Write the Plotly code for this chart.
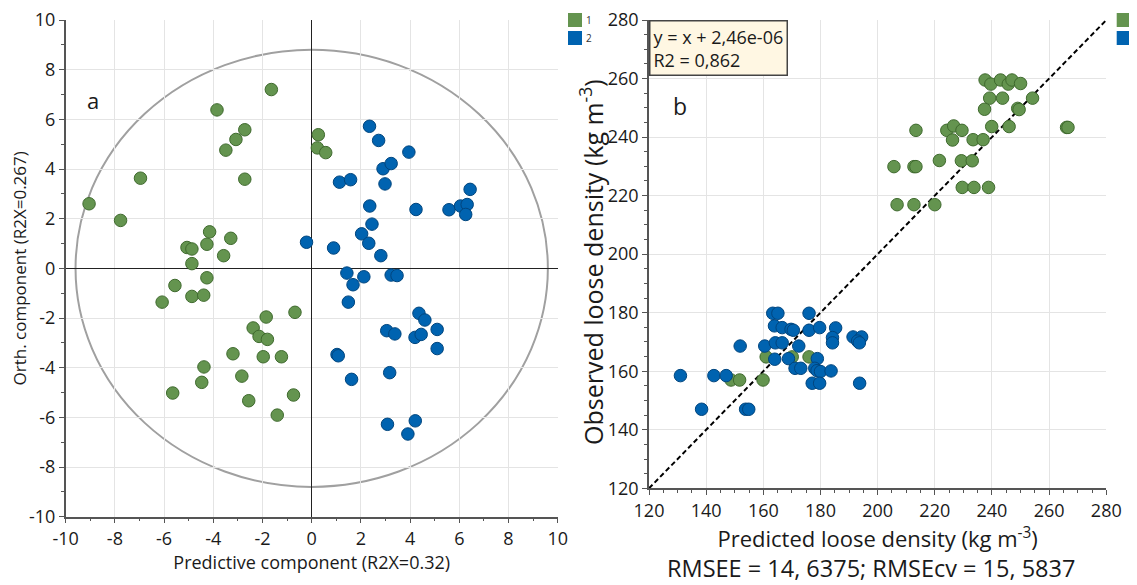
import plotly.graph_objects as go

# ---------------- data ----------------
# (a) OPLS-DA score plot
a_green_x = [-9.05, -7.77, -6.96, -3.85, -1.64, -3.49, -3.08, -2.72, -2.72, 0.27, 0.23, 0.57,
             -4.15, -3.29, -5.07, -4.87, -4.26, -3.58, -4.87, -4.26, -5.56, -4.87, -4.39, -6.08,
             -0.68, -1.85, -2.38, -2.14, -1.80, -3.20, -1.97, -1.23, -4.38, -2.84, -4.47, -5.65,
             -2.56, -0.74, -1.40]
a_green_y = [2.60, 1.93, 3.63, 6.38, 7.20, 4.76, 5.19, 5.58, 3.59, 5.38, 4.85, 4.66,
             1.47, 1.21, 0.84, 0.78, 0.97, 0.51, 0.19, -0.38, -0.69, -1.13, -1.08, -1.36,
             -1.77, -1.96, -2.40, -2.74, -2.86, -3.44, -3.56, -3.56, -3.97, -4.34, -4.59, -5.02,
             -5.33, -5.10, -5.91]
a_blue_x = [2.35, 2.72, 3.95, 2.90, 3.23, 2.98, 1.13, 1.58, 6.44, 2.36, 4.24, 5.58, 6.05, 6.32,
            6.26, 2.45, 2.03, 2.32, -0.21, 0.89, 2.81, 1.43, 2.12, 1.68, 3.23, 3.47, 1.49,
            4.36, 4.60, 3.05, 3.38, 4.20, 4.45, 5.10, 5.10, 1.03, 1.08, 3.17, 1.62, 3.08,
            4.21, 3.91]
a_blue_y = [5.72, 5.15, 4.68, 4.01, 4.22, 3.40, 3.47, 3.57, 3.18, 2.51, 2.37, 2.36, 2.51, 2.57,
            2.17, 1.78, 1.39, 1.01, 1.05, 0.82, 0.51, -0.19, -0.34, -0.66, -0.27, -0.29, -1.36,
            -1.81, -2.08, -2.51, -2.64, -2.78, -2.66, -2.46, -3.23, -3.47, -3.52, -4.20, -4.47,
            -6.28, -6.14, -6.67]

# (b) observed vs predicted loose density
b_green_pred = [237.6, 239.6, 243.0, 245.7, 247.0, 250.0, 239.2, 243.7, 254.2, 237.4, 249.0, 249.5,
                239.9, 246.0, 266.1, 266.6, 213.4, 224.2, 226.6, 229.5, 226.2, 233.4, 236.9,
                205.7, 212.7, 213.4, 221.6, 229.3, 233.1, 229.6, 233.7, 238.8, 206.8, 212.7, 220.0,
                161.0, 170.1, 176.0, 148.7, 151.7, 159.9]
b_green_obs = [259.5, 258.1, 259.5, 258.1, 259.5, 258.3, 253.3, 253.3, 253.3, 249.5, 249.8, 249.4,
               243.6, 243.6, 243.3, 243.3, 242.3, 242.3, 243.8, 242.3, 239.0, 239.1, 239.1,
               229.9, 229.9, 229.9, 232.0, 231.9, 231.9, 222.8, 222.8, 222.8, 216.9, 216.9, 216.9,
               164.9, 164.9, 164.9, 157.0, 157.0, 157.0]
b_blue_pred = [131.0, 138.4, 142.7, 147.0, 153.8, 154.9, 151.9, 160.5, 163.3, 165.1, 176.0, 163.9,
               166.6, 169.7, 170.5, 176.0, 179.7, 185.3, 164.2, 166.6, 172.4, 164.0, 168.8, 178.9,
               171.1, 173.1, 178.0, 178.8, 180.0, 183.7, 177.1, 179.7, 193.7, 184.2, 184.2, 191.4,
               194.4, 193.0, 193.6]
b_blue_obs = [158.5, 147.0, 158.5, 158.5, 147.0, 147.0, 168.6, 168.6, 179.8, 179.8, 179.8, 175.5,
              174.9, 174.3, 174.0, 174.0, 174.9, 174.8, 169.7, 169.7, 168.6, 164.1, 164.3, 164.3,
              161.0, 161.0, 161.0, 160.2, 159.9, 160.1, 155.9, 155.9, 155.9, 171.5, 169.7, 171.7,
              171.7, 170.3, 169.7]

a_ticks = [-10, -8, -6, -4, -2, 0, 2, 4, 6, 8, 10]
a_ticktext = [str(v) for v in a_ticks]
b_ticks = [120, 140, 160, 180, 200, 220, 240, 260, 280]
b_ticktext = [str(v) for v in b_ticks]
legend_labels = ["1", "2"]

# ellipse (Hotelling T2) semi-axes
ell_a, ell_b = 9.6, 8.8

# ---------------- style ----------------
OFF = 8                       # default page (body) margin of the html page
W, H = 1137 - OFF, 585 - OFF  # figure fills the rest of the 1137x585 window
FONT = "Open Sans"
GREEN = "#64944F"
GREEN_EDGE = "#3F6A2E"
BLUE = "#0063B0"
BLUE_EDGE = "#00457E"
GRID = "#E4E4E4"
AXIS = "#555555"
TXT = "#1a1a1a"


def px_x(p):
    """window pixel -> paper x"""
    return (p - OFF) / W


def px_y(p):
    """window pixel (from top) -> paper y"""
    return 1 - (p - OFF) / H


fig = go.Figure()

fig.add_trace(go.Scatter(x=a_green_x, y=a_green_y, mode="markers", xaxis="x", yaxis="y",
                         marker=dict(color=GREEN, size=12.5, line=dict(width=1, color=GREEN_EDGE)),
                         showlegend=False, name="1"))
fig.add_trace(go.Scatter(x=a_blue_x, y=a_blue_y, mode="markers", xaxis="x", yaxis="y",
                         marker=dict(color=BLUE, size=12.5, line=dict(width=1, color=BLUE_EDGE)),
                         showlegend=False, name="2"))

# identity line y = x across the axis range
fig.add_trace(go.Scatter(x=[b_ticks[0], b_ticks[-1]], y=[b_ticks[0], b_ticks[-1]], mode="lines",
                         xaxis="x2", yaxis="y2", line=dict(color="black", width=2, dash="5px,3px"),
                         showlegend=False, hoverinfo="skip"))
fig.add_trace(go.Scatter(x=b_green_pred, y=b_green_obs, mode="markers", xaxis="x2", yaxis="y2",
                         marker=dict(color=GREEN, size=12.5, line=dict(width=1, color=GREEN_EDGE)),
                         showlegend=False, name="1"))
fig.add_trace(go.Scatter(x=b_blue_pred, y=b_blue_obs, mode="markers", xaxis="x2", yaxis="y2",
                         marker=dict(color=BLUE, size=12.5, line=dict(width=1, color=BLUE_EDGE)),
                         showlegend=False, name="2"))

axis_common = dict(showgrid=True, gridcolor=GRID, gridwidth=1, showline=True, linecolor=AXIS,
                   linewidth=1.5, ticks="outside", ticklen=5, tickcolor=AXIS, tickwidth=1,
                   tickfont=dict(family=FONT, size=18, color=TXT), mirror=False,
                   automargin=False, ticklabeloverflow="allow")

fig.update_layout(
    width=W, height=H, margin=dict(l=0, r=0, t=0, b=0, autoexpand=False),
    paper_bgcolor="white", plot_bgcolor="white",
    font=dict(family=FONT, color=TXT),
    xaxis=dict(domain=[px_x(65.7), px_x(557.7)], range=[-10, 10], tickvals=a_ticks,
               ticktext=a_ticktext, zeroline=True, zerolinecolor="#222222", zerolinewidth=1,
               minor=dict(dtick=1, ticks="outside", ticklen=3, tickcolor=AXIS, showgrid=False),
               title=dict(text="Predictive component (R2X=0.32)", standoff=4,
                          font=dict(family=FONT, size=18, color=TXT)),
               anchor="y", **axis_common),
    yaxis=dict(domain=[px_y(516.7), px_y(20)], range=[-10, 10], tickvals=a_ticks,
               ticktext=a_ticktext, zeroline=True, zerolinecolor="#222222", zerolinewidth=1,
               minor=dict(dtick=1, ticks="outside", ticklen=3, tickcolor=AXIS, showgrid=False),
               title=dict(text="Orth. component (R2X=0.267)", standoff=0,
                          font=dict(family=FONT, size=17, color=TXT)),
               anchor="x", **axis_common),
    xaxis2=dict(domain=[px_x(649), px_x(1106.3)], range=[120, 280], tickvals=b_ticks,
                ticktext=b_ticktext, zeroline=False,
                minor=dict(dtick=5, ticks="outside", ticklen=3, tickcolor=AXIS, showgrid=False),
                title=dict(text="Predicted loose density (kg m<sup>-3</sup>)", standoff=0,
                           font=dict(family=FONT, size=22, color=TXT)),
                anchor="y2", **axis_common),
    yaxis2=dict(domain=[px_y(488.3), px_y(20)], range=[120, 280], tickvals=b_ticks,
                ticktext=b_ticktext, zeroline=False,
                minor=dict(dtick=5, ticks="outside", ticklen=3, tickcolor=AXIS, showgrid=False),
                anchor="x2", **axis_common),
)

shapes = [dict(type="circle", xref="x", yref="y", x0=-ell_a, x1=ell_a, y0=-ell_b, y1=ell_b,
               line=dict(color="#A0A0A0", width=2), layer="below")]

# legends (square swatches + labels) for both panels
annotations = []
for lx in (568, 1116.7):
    for i, (lab, col) in enumerate(zip(legend_labels, [GREEN, BLUE])):
        top = 13 + 18 * i
        shapes.append(dict(type="rect", xref="paper", yref="paper",
                           x0=px_x(lx), x1=px_x(lx + 14), y0=px_y(top + 14), y1=px_y(top),
                           fillcolor=col, line=dict(width=0)))
        annotations.append(dict(text=lab, xref="paper", yref="paper", x=px_x(lx + 16),
                                y=px_y(top + 7), xanchor="left", yanchor="middle",
                                showarrow=False, font=dict(family=FONT, size=10, color="#333333")))

annotations += [
    # y-axis title of panel b (placed as in the original, slightly below the axis centre)
    dict(text="Observed loose density (kg m<sup>-3</sup>)", xref="paper", yref="paper",
         x=px_x(591), y=px_y(262), xanchor="center", yanchor="middle", textangle=-90,
         showarrow=False, font=dict(family=FONT, size=25, color=TXT)),
    dict(text="a", xref="paper", yref="paper", x=px_x(93), y=px_y(100), xanchor="center",
         yanchor="middle", showarrow=False, font=dict(family=FONT, size=22, color=TXT)),
    dict(text="b", xref="paper", yref="paper", x=px_x(680), y=px_y(106), xanchor="center",
         yanchor="middle", showarrow=False, font=dict(family=FONT, size=23, color=TXT)),
    dict(text="y = x + 2,46e-06<br>R2 = 0,862", xref="paper", yref="paper", x=px_x(649),
         y=px_y(20), xanchor="left", yanchor="top", align="left", showarrow=False,
         bgcolor="#FFF7E3", bordercolor="#444444", borderwidth=1.5, borderpad=3,
         font=dict(family=FONT, size=18, color=TXT)),
    dict(text="RMSEE = 14, 6375; RMSEcv = 15, 5837", xref="paper", yref="paper", x=px_x(871),
         y=px_y(568), xanchor="center", yanchor="middle", showarrow=False,
         font=dict(family=FONT, size=23.5, color=TXT)),
]

fig.update_layout(shapes=shapes, annotations=annotations)
fig.write_html("out.html")
